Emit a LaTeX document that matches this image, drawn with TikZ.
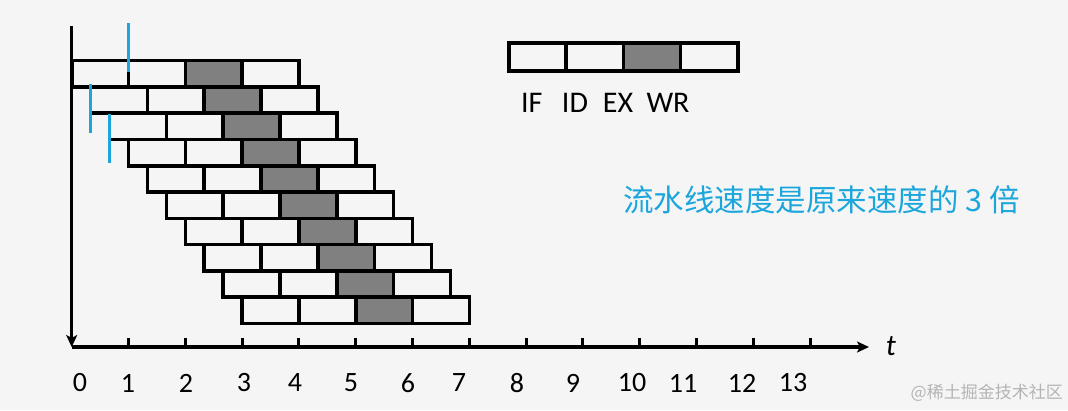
\documentclass[tikz,border=0pt]{standalone}
\usepackage{fontspec}
\setmainfont{Carlito}
\newfontfamily\cjk{Noto Sans CJK SC}
\usetikzlibrary{arrows.meta}
\definecolor{bg}{HTML}{F5F5F5}
\definecolor{exgray}{HTML}{808080}
\definecolor{cyanmark}{HTML}{1BA6DC}
\definecolor{wmark}{HTML}{B4B4B4}
\begin{document}
\begin{tikzpicture}[x=1pt,y=-1pt,
  cell/.style={draw=black,line width=3.6pt,fill=bg,minimum width=56.8pt,minimum height=26.3pt,inner sep=0pt,outer sep=0pt,anchor=north west},
  excell/.style={cell,fill=exgray},
  legcell/.style={cell,minimum width=57.2pt,minimum height=28pt},
  legex/.style={legcell,fill=exgray},
  axisline/.style={line width=3.4pt,-{Stealth[length=12pt,width=11pt,inset=3pt]}},
  tickline/.style={line width=3pt},
  cyanline/.style={draw=cyanmark,line width=3.3pt},
  ticklab/.style={font=\fontsize{28}{32}\selectfont,anchor=center,inner sep=0pt},
  leglab/.style={font=\fontsize{30}{34}\selectfont,anchor=center,inner sep=0pt},
]
\fill[bg] (0,0) rectangle (1068,410);
\useasboundingbox (0,0) rectangle (1068,410);

% pipeline rows
\foreach \r in {0,...,9} {
  \foreach \c/\st in {0/cell,1/cell,2/excell,3/cell} {
    \node[\st] (c\r-\c) at ({71.7+\r*18.933+\c*56.8},{60.5+\r*26.3}) {};
  }
}

% axes
\coordinate (ytop) at (71.7,26);
\coordinate (origin) at (71.7,347);
\coordinate (xend) at (869,347);
\draw[axisline] (ytop) -- (origin);
\draw[axisline] (origin) -- (xend);
\foreach \k in {1,...,13} {
  \draw[tickline] ({71.7+\k*56.8},338) -- ({71.7+\k*56.8},347);
}
\node[font=\fontsize{30}{34}\selectfont\itshape,anchor=center] (tlab) at (891,346) {t};

% tick labels
\foreach \k/\xx in {0/80,1/128,2/186,3/244,4/295,5/351,6/408,7/459,8/517,9/573,10/632,11/683,12/742,13/793} {
  \node[ticklab] (n\k) at (\xx,383) {\k};
}

% cyan marks
\coordinate (m1a) at (128.8,23); \coordinate (m1b) at (128.8,72);
\coordinate (m2a) at (90.6,84);  \coordinate (m2b) at (90.6,133);
\coordinate (m3a) at (109.6,114); \coordinate (m3b) at (109.6,163);
\draw[cyanline] (m1a) -- (m1b);
\draw[cyanline] (m2a) -- (m2b);
\draw[cyanline] (m3a) -- (m3b);

% legend
\foreach \c/\st in {0/legcell,1/legcell,2/legex,3/legcell} {
  \node[\st] (l\c) at ({509+\c*57.2},42.7) {};
}
\node[leglab] (lif) at (531.7,103) {IF};
\node[leglab] (lid) at (575,103) {ID};
\node[leglab] (lex) at (618,103) {EX};
\node[leglab] (lwr) at (668,103) {WR};

% caption
\node[font=\cjk\fontsize{30.5}{34}\selectfont,text=cyanmark,anchor=west,inner sep=0pt] (cap) at (623,200) {流水线速度是原来速度的 3 倍};

% watermark
\node[font=\cjk\fontsize{17}{20}\selectfont,text=wmark,anchor=east,inner sep=0pt] (wm) at (1063,393) {@稀土掘金技术社区};
\end{tikzpicture}
\end{document}
